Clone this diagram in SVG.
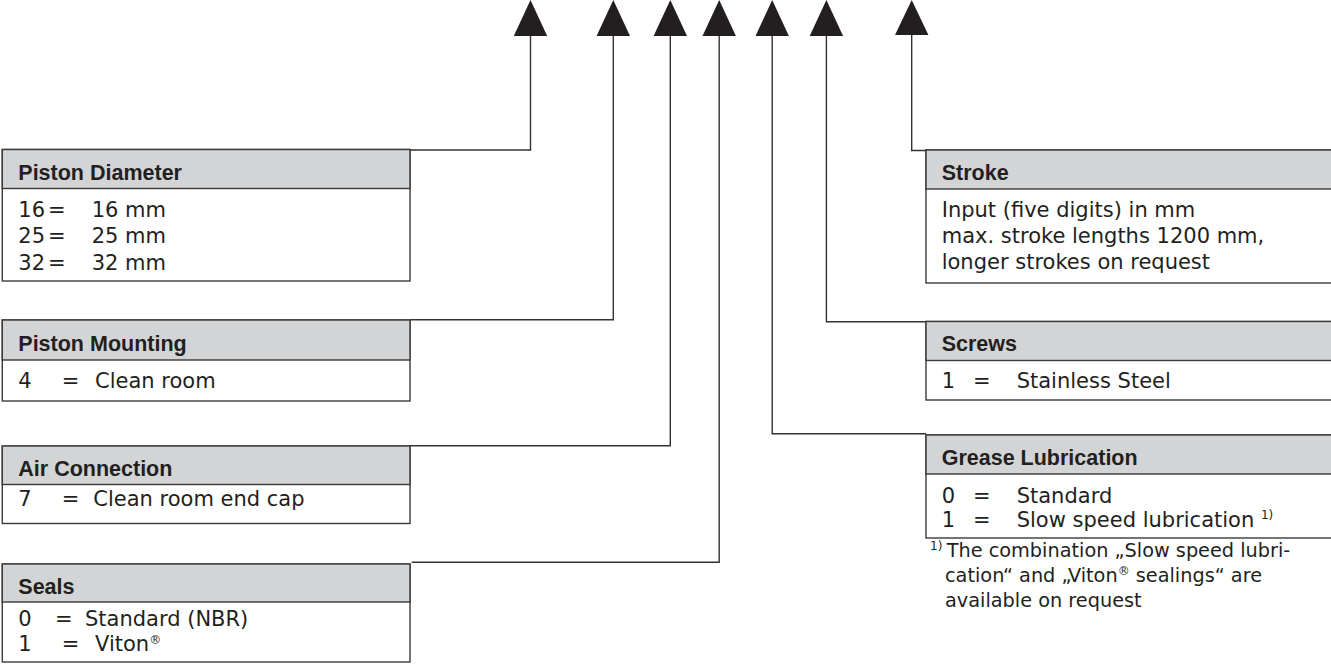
<svg xmlns="http://www.w3.org/2000/svg" width="1331" height="665" viewBox="0 0 1331 665">
<style>
.box{fill:#fff;stroke:#3a3a3a;stroke-width:1.4}
.hdr{fill:#d3d4d6;stroke:#3a3a3a;stroke-width:1.4}
.ht{font-family:"Liberation Sans",Arial,sans-serif;font-weight:bold;font-size:21.5px;fill:#231f20}
.bt{font-family:"DejaVu Sans",sans-serif;font-size:21px;fill:#231f20}
.ft{font-family:"DejaVu Sans",sans-serif;font-size:19.3px;fill:#231f20}
.sup{font-size:12px}
.conn{fill:none;stroke:#333;stroke-width:1.4}
.arr{fill:#231f20}
</style>
<g id="connectors">
<path class="conn" d="M530.5,34 V150 H410"/>
<path class="conn" d="M613.3,34 V319.7 H410"/>
<path class="conn" d="M670.3,34 V445.7 H410"/>
<path class="conn" d="M719.2,34 V562.3 H411.7"/>
<path class="conn" d="M772.2,34 V433.7 H926"/>
<path class="conn" d="M826.4,34 V321.7 H926"/>
<path class="conn" d="M911.7,34 V150.5 H926"/>
<polygon class="arr" points="530.5,0 547.2,36 513.8,36"/>
<polygon class="arr" points="613.3,0 630,36 596.6,36"/>
<polygon class="arr" points="670.3,0 687,36 653.6,36"/>
<polygon class="arr" points="719.2,0 735.9,36 702.5,36"/>
<polygon class="arr" points="772.2,0 788.9,36 755.5,36"/>
<polygon class="arr" points="826.4,0 843.1,36 809.7,36"/>
<polygon class="arr" points="911.7,0 928.4,35 895,35"/>
</g>
<g id="piston-diameter">
<rect class="box" x="2.3" y="149.5" width="407.7" height="131.5"/>
<rect class="hdr" x="2.3" y="149.5" width="407.7" height="39"/>
<text class="ht" x="18.3" y="180">Piston Diameter</text>
<text class="bt" y="216.5"><tspan x="18.3">16</tspan><tspan x="48">=</tspan><tspan x="91.7">16 mm</tspan></text>
<text class="bt" y="243"><tspan x="18.3">25</tspan><tspan x="48">=</tspan><tspan x="91.7">25 mm</tspan></text>
<text class="bt" y="269.5"><tspan x="18.3">32</tspan><tspan x="48">=</tspan><tspan x="91.7">32 mm</tspan></text>
</g>
<g id="piston-mounting">
<rect class="box" x="2.3" y="320" width="407.7" height="81"/>
<rect class="hdr" x="2.3" y="320" width="407.7" height="40"/>
<text class="ht" x="18.3" y="350.5">Piston Mounting</text>
<text class="bt" y="388.3"><tspan x="18.3">4</tspan><tspan x="61.7">=</tspan><tspan x="95">Clean room</tspan></text>
</g>
<g id="air-connection">
<rect class="box" x="2.3" y="446" width="407.7" height="77.5"/>
<rect class="hdr" x="2.3" y="446" width="407.7" height="38.5"/>
<text class="ht" x="18.3" y="475.5">Air Connection</text>
<text class="bt" y="505.5"><tspan x="18.3">7</tspan><tspan x="61.7">=</tspan><tspan x="93.3">Clean room end cap</tspan></text>
</g>
<g id="seals">
<rect class="box" x="2.3" y="564" width="407.7" height="98"/>
<rect class="hdr" x="2.3" y="564" width="407.7" height="38"/>
<text class="ht" x="18.3" y="593.5">Seals</text>
<text class="bt" y="625.5"><tspan x="18.3">0</tspan><tspan x="55">=</tspan><tspan x="85">Standard (NBR)</tspan></text>
<text class="bt" y="650.5"><tspan x="18.3">1</tspan><tspan x="61.7">=</tspan><tspan x="95">Viton</tspan><tspan class="sup" dy="-7">®</tspan></text>
</g>
<g id="stroke">
<rect class="box" x="926" y="150" width="420" height="133"/>
<rect class="hdr" x="926" y="150" width="420" height="39"/>
<text class="ht" x="941.7" y="179.5">Stroke</text>
<text class="bt" x="941.7" y="217">Input (five digits) in mm</text>
<text class="bt" x="941.7" y="243">max. stroke lengths 1200 mm,</text>
<text class="bt" x="941.7" y="269">longer strokes on request</text>
</g>
<g id="screws">
<rect class="box" x="926" y="321.5" width="420" height="78.5"/>
<rect class="hdr" x="926" y="321.5" width="420" height="39"/>
<text class="ht" x="941.7" y="351">Screws</text>
<text class="bt" y="388.3"><tspan x="941.7">1</tspan><tspan x="973">=</tspan><tspan x="1016.7">Stainless Steel</tspan></text>
</g>
<g id="grease-lubrication">
<rect class="box" x="926" y="435" width="420" height="103"/>
<rect class="hdr" x="926" y="435" width="420" height="39"/>
<text class="ht" x="941.7" y="464.5">Grease Lubrication</text>
<text class="bt" y="503"><tspan x="941.7">0</tspan><tspan x="973">=</tspan><tspan x="1016.7">Standard</tspan></text>
<text class="bt" y="527"><tspan x="941.7">1</tspan><tspan x="973">=</tspan><tspan x="1016.7">Slow speed lubrication </tspan><tspan class="sup" dy="-8">1)</tspan></text>
</g>
<g id="footnote">
<text class="ft" y="557"><tspan class="sup" x="930" dy="-7">1)</tspan><tspan x="946.7" dy="7">The combination „Slow speed lubri-</tspan></text>
<text class="ft" y="582"><tspan x="945">cation“ and „Viton</tspan><tspan class="sup" dy="-7">®</tspan><tspan dy="7"> sealings“ are</tspan></text>
<text class="ft" x="945" y="607">available on request</text>
</g>
</svg>
